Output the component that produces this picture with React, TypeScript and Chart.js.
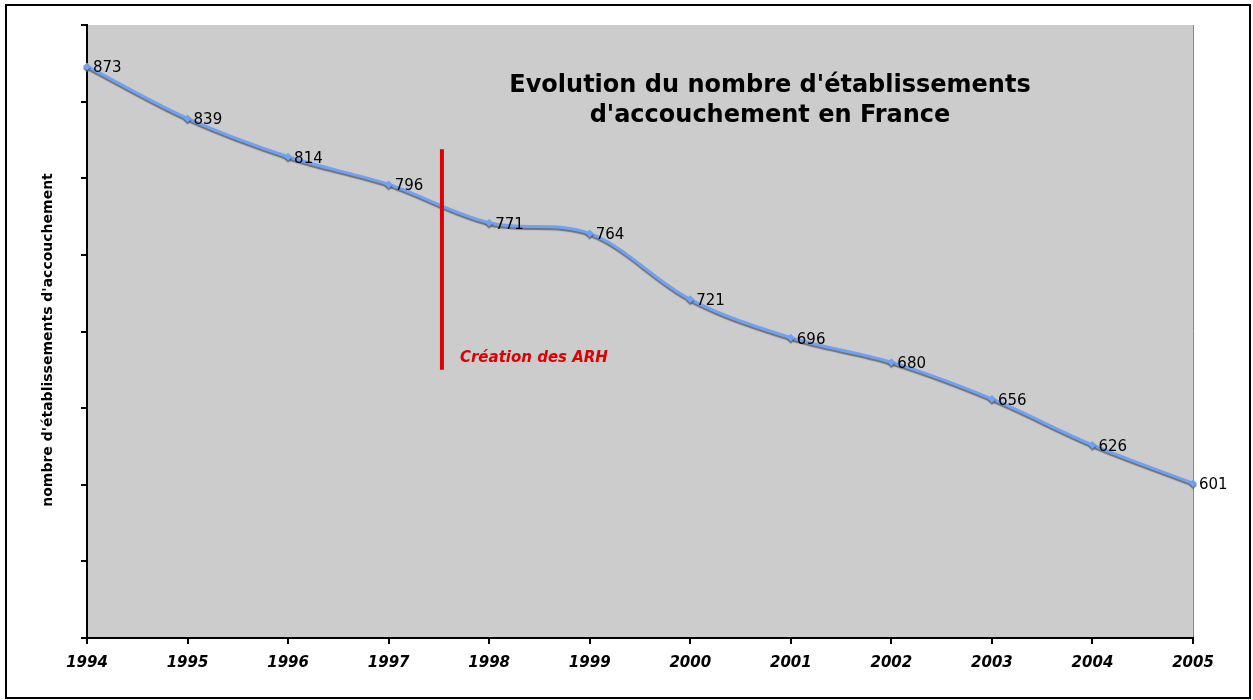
import React, { useEffect, useRef } from 'react';
import { Chart, registerables } from 'chart.js';

Chart.register(...registerables);

const years = ['1994', '1995', '1996', '1997', '1998', '1999', '2000', '2001', '2002', '2003', '2004', '2005'];
const counts = [873, 839, 814, 796, 771, 764, 721, 696, 680, 656, 626, 601];
const yMin = 500;
const yMax = 900;
const yStep = 50;
const titleLines = ["Evolution du nombre d'établissements", "d'accouchement en France"];
const yAxisTitle = "nombre d'établissements d'accouchement";
const arhLabel = 'Création des ARH';
const arhIndex = 3.53; // position between 1997 and 1998 (category index)
const arhRange = [675, 819]; // vertical extent in data units

const FONT = '"DejaVu Sans", Verdana, sans-serif';

const decorPlugin = {
  id: 'decor',
  beforeDraw(chart: any) {
    const { ctx, chartArea: a } = chart;
    ctx.save();
    ctx.fillStyle = '#ffffff';
    ctx.fillRect(0, 0, chart.width, chart.height);
    ctx.fillStyle = '#cccccc';
    ctx.fillRect(a.left, a.top, a.right - a.left, a.bottom - a.top);
    ctx.strokeStyle = '#888888';
    ctx.lineWidth = 1;
    ctx.beginPath();
    ctx.moveTo(a.right + 0.5, a.top);
    ctx.lineTo(a.right + 0.5, a.bottom);
    ctx.stroke();
    ctx.restore();
  },
  beforeDatasetDraw(chart: any) {
    const ctx = chart.ctx;
    ctx.save();
    ctx.shadowColor = 'rgba(90,90,90,0.8)';
    ctx.shadowOffsetX = 0;
    ctx.shadowOffsetY = 2;
    ctx.shadowBlur = 1;
  },
  afterDatasetDraw(chart: any) {
    chart.ctx.restore();
  },
  afterDatasetsDraw(chart: any) {
    const { ctx, scales } = chart;
    const meta = chart.getDatasetMeta(0);
    ctx.save();
    // data labels
    ctx.fillStyle = '#000000';
    ctx.font = `15px ${FONT}`;
    ctx.textAlign = 'left';
    ctx.textBaseline = 'middle';
    meta.data.forEach((pt: any, i: number) => {
      ctx.fillText(String(counts[i]), pt.x + 6, pt.y + 2);
    });
    // ARH line
    const x0 = scales.x.getPixelForValue(Math.floor(arhIndex));
    const x1 = scales.x.getPixelForValue(Math.floor(arhIndex) + 1);
    const ax = x0 + (x1 - x0) * (arhIndex - Math.floor(arhIndex));
    const yTop = scales.y.getPixelForValue(arhRange[1]);
    const yBot = scales.y.getPixelForValue(arhRange[0]);
    ctx.strokeStyle = '#dd0000';
    ctx.lineWidth = 4;
    ctx.beginPath();
    ctx.moveTo(ax, yTop);
    ctx.lineTo(ax, yBot);
    ctx.stroke();
    ctx.fillStyle = '#dd0000';
    ctx.font = `italic bold 15px ${FONT}`;
    ctx.textBaseline = 'middle';
    ctx.fillText(arhLabel, ax + 18, yBot - 12);
    // title
    ctx.fillStyle = '#000000';
    ctx.font = `bold 24px ${FONT}`;
    ctx.textAlign = 'center';
    ctx.fillText(titleLines[0], 770, 86);
    ctx.fillText(titleLines[1], 770, 116);
    // y title
    ctx.save();
    ctx.translate(48, 340);
    ctx.rotate(-Math.PI / 2);
    ctx.font = `bold 14px ${FONT}`;
    ctx.fillText(yAxisTitle, 0, 0);
    ctx.restore();
    // outer border
    ctx.strokeStyle = '#000000';
    ctx.lineWidth = 2;
    ctx.strokeRect(6, 5, 1244, 693);
    ctx.restore();
  },
};

export default function App() {
  const ref = useRef<HTMLCanvasElement>(null);
  useEffect(() => {
    document.body.style.margin = '0';
    const chart = new Chart(ref.current!, {
      type: 'line',
      data: {
        labels: years,
        datasets: [
          {
            data: counts,
            borderColor: '#6ea2f6',
            backgroundColor: '#6ea2f6',
            borderWidth: 3,
            tension: 0.35,
            pointStyle: 'rectRot',
            pointRadius: 4,
            pointBorderWidth: 0,
            fill: false,
          },
        ],
      },
      options: {
        responsive: false,
        animation: false,
        layout: { padding: { left: 81, top: 25, right: 60, bottom: 18 } },
        plugins: { legend: { display: false }, tooltip: { enabled: false }, title: { display: false } },
        scales: {
          x: {
            offset: false,
            border: { color: '#000000', width: 2 },
            grid: { drawOnChartArea: false, drawTicks: true, tickLength: 6, color: '#000000', lineWidth: 2 },
            ticks: {
              color: '#000000',
              font: { family: FONT, size: 15, style: 'italic', weight: 'bold' },
              padding: 10,
              maxRotation: 0,
              autoSkip: false,
            },
          },
          y: {
            min: yMin,
            max: yMax,
            border: { color: '#000000', width: 2 },
            grid: { drawOnChartArea: false, drawTicks: true, tickLength: 6, color: '#000000', lineWidth: 2 },
            ticks: { display: false, stepSize: yStep },
          },
        },
      },
      plugins: [decorPlugin],
    });
    return () => chart.destroy();
  }, []);
  return <canvas ref={ref} width={1253} height={700} style={{ display: 'block', width: 1253, height: 700 }} />;
}
